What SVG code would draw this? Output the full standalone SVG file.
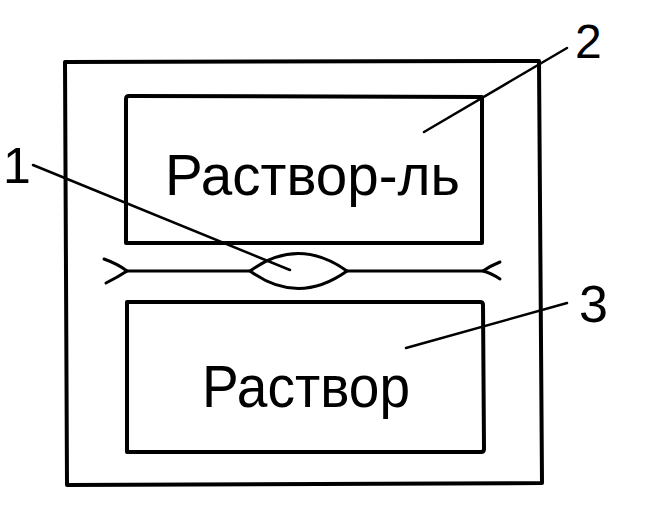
<svg xmlns="http://www.w3.org/2000/svg" width="654" height="515" viewBox="0 0 654 515">
<style>
.box{fill:none;stroke:#000;stroke-width:4;stroke-linejoin:round}
.ln{fill:none;stroke:#000;stroke-width:3;stroke-linecap:round;stroke-linejoin:round}
.lead{fill:none;stroke:#000;stroke-width:2.5;stroke-linecap:round}
.lbl{font-family:"Liberation Sans",Arial,sans-serif;fill:#000}
</style>
<rect width="654" height="515" fill="#fff"/>
<g id="vessel">
<path class="box" d="M65,62 L539,61 L542,483 L67,485 Z"/>
</g>
<g id="node-solvent">
<path class="box" d="M126,243 L126,99 Q126,96 129,96 L482,97 L482,243 Z"/>
<text class="lbl" x="165" y="195" font-size="57" textLength="295" lengthAdjust="spacingAndGlyphs">Раствор-ль</text>
</g>
<g id="node-solution">
<path class="box" d="M127,302 L480,302 Q483,302 483,305 L484,449 Q484,452 481,452 L127,452 Z"/>
<text class="lbl" x="202" y="407" font-size="59" textLength="208" lengthAdjust="spacingAndGlyphs">Раствор</text>
</g>
<g id="membrane">
<path class="ln" d="M127,271 L250,271 M347,271 L483,271"/>
<path class="ln" d="M104,259 Q118,264 127,271 Q118,277 106,283"/>
<path class="ln" d="M500,262 Q490,266 483,271 Q491,273 500,279"/>
<path class="ln" d="M250,271 Q298,236 347,271 Q298,306 250,271 Z"/>
</g>
<g id="connectors">
<line class="lead" x1="33" y1="165" x2="290" y2="270"/>
<line class="lead" x1="424" y1="132" x2="567" y2="48"/>
<line class="lead" x1="406" y1="348" x2="567" y2="303"/>
</g>
<g id="labels">
<text class="lbl" x="3" y="183" font-size="50">1</text>
<text class="lbl" x="575" y="58" font-size="48">2</text>
<text class="lbl" x="579" y="322" font-size="52">3</text>
</g>
</svg>
